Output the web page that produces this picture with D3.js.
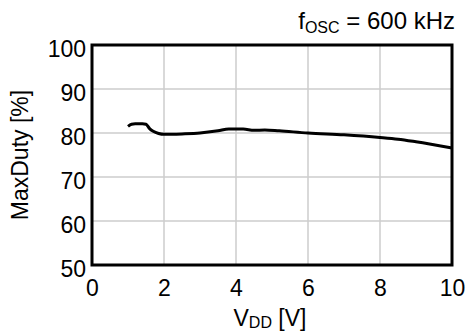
<!DOCTYPE html>
<html><head><meta charset="utf-8">
<script src="https://cdn.jsdelivr.net/npm/d3@7"></script>
<style>body{margin:0;background:#fff}svg{display:block}text{font-family:"Liberation Sans",Arial,sans-serif;fill:#000}</style>
</head><body><svg id="c" width="472" height="332"></svg>
<script>
const vdd = [1.0, 1.1, 1.2, 1.4, 1.5, 1.6, 1.7, 1.85, 2.0, 2.5, 3.0, 3.5, 3.8, 4.2, 4.5, 4.8, 5.2, 6.0, 7.0, 8.0, 8.5, 9.0, 10.0];
const maxDuty = [81.5, 82.0, 82.1, 82.1, 82.0, 81.0, 80.4, 79.9, 79.7, 79.8, 80.0, 80.5, 80.9, 80.9, 80.6, 80.7, 80.5, 80.0, 79.6, 79.0, 78.6, 78.0, 76.6];
const xTicks = [0, 2, 4, 6, 8, 10];
const yTicks = [50, 60, 70, 80, 90, 100];

const svg = d3.select("#c");
const L = 92, R = 452, T = 45, B = 265;
const x = d3.scaleLinear().domain([0, 10]).range([L, R]);
const y = d3.scaleLinear().domain([50, 100]).range([B, T]);

// grid
svg.append("g").selectAll("line").data(xTicks.slice(1, -1)).join("line")
  .attr("x1", d => x(d)).attr("x2", d => x(d)).attr("y1", T).attr("y2", B)
  .attr("stroke", "#cccccc").attr("stroke-width", 1.5);
svg.append("g").selectAll("line").data(yTicks.slice(1, -1)).join("line")
  .attr("y1", d => y(d)).attr("y2", d => y(d)).attr("x1", L).attr("x2", R)
  .attr("stroke", "#cccccc").attr("stroke-width", 1.5);

// axes (labels)
const xAxis = svg.append("g").attr("transform", `translate(0,${B})`)
  .call(d3.axisBottom(x).tickValues(xTicks).tickSize(0).tickPadding(15).tickFormat(d3.format("d")));
xAxis.select(".domain").remove();
xAxis.selectAll("text").style("font-size", "23px").attr("font-family", "Liberation Sans, Arial, sans-serif");
const yAxis = svg.append("g").attr("transform", `translate(${L},4)`)
  .call(d3.axisLeft(y).tickValues(yTicks).tickSize(0).tickPadding(6).tickFormat(d3.format("d")));
yAxis.select(".domain").remove();
yAxis.selectAll("text").style("font-size", "23px").attr("font-family", "Liberation Sans, Arial, sans-serif");

// line
svg.append("path").datum(vdd.map((v, i) => [v, maxDuty[i]]))
  .attr("fill", "none").attr("stroke", "#000").attr("stroke-width", 3).attr("stroke-linejoin", "round")
  .attr("d", d3.line().x(d => x(d[0])).y(d => y(d[1])).curve(d3.curveMonotoneX));

// frame
svg.append("rect").attr("x", L).attr("y", T).attr("width", R - L).attr("height", B - T)
  .attr("fill", "none").attr("stroke", "#000").attr("stroke-width", 3);

// titles
const xt = svg.append("text").attr("x", 270).attr("y", 326).attr("text-anchor", "middle").style("font-size", "23px");
xt.append("tspan").text("V");
xt.append("tspan").text("DD").style("font-size", "16px").attr("dy", 1.5);
xt.append("tspan").text(" [V]").attr("dy", -1.5);

svg.append("text").attr("transform", `translate(28,155) rotate(-90)`)
  .attr("text-anchor", "middle").style("font-size", "23px").text("MaxDuty [%]");

const tt = svg.append("text").attr("x", 455).attr("y", 29).attr("text-anchor", "end").style("font-size", "24px");
tt.append("tspan").text("f");
tt.append("tspan").text("OSC").style("font-size", "16px").attr("dy", 3.5);
tt.append("tspan").text(" = 600 kHz").attr("dy", -3.5);
</script></body></html>
